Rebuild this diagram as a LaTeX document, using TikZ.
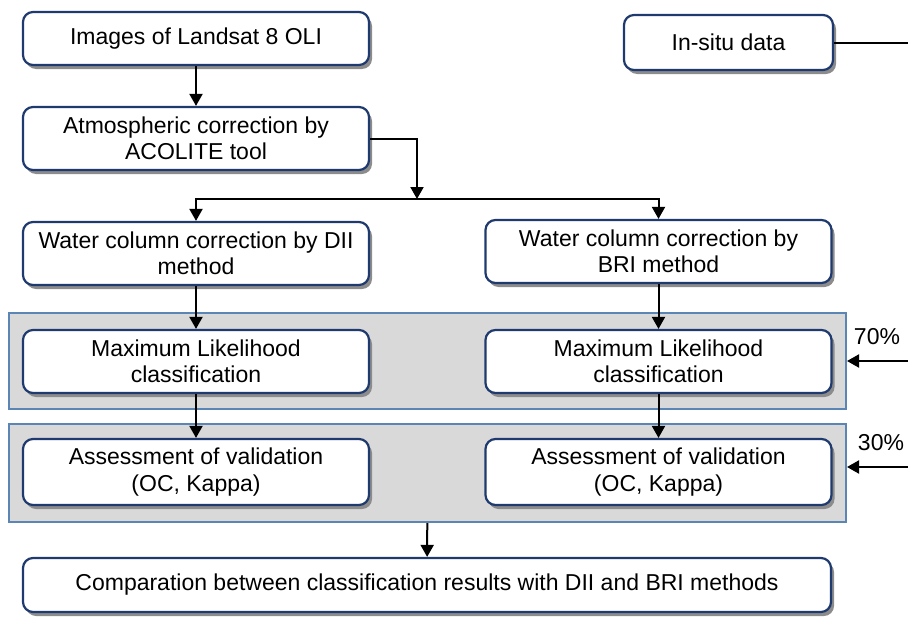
\documentclass[tikz,border=0pt]{standalone}
\usepackage{fontspec}
\setmainfont{Liberation Sans}
\usetikzlibrary{shadows,arrows.meta}
\definecolor{boxline}{HTML}{1F3A6E}
\definecolor{bandline}{HTML}{5A85B5}
\definecolor{bandfill}{HTML}{D9D9D9}
\definecolor{shadowgray}{HTML}{8C8C8C}

\begin{document}
\begin{tikzpicture}[x=1pt,y=-1pt,
    stepbox/.style={draw=boxline,line width=2.2pt,rounded corners=10pt,fill=white,
      align=center,inner sep=0pt,font=\fontsize{23}{26.5}\selectfont,
      drop shadow={shadow xshift=3pt,shadow yshift=-4pt,fill=shadowgray,opacity=1}},
    band/.style={draw=bandline,line width=2pt,fill=bandfill,inner sep=0pt},
    arr/.style={line width=2pt,-{Triangle[width=13pt,length=12pt]}},
    plain/.style={line width=2pt}]
    \pgfmathsetmacro{\leftx}{196}
    \pgfmathsetmacro{\rightx}{658.5}
    \pgfmathsetmacro{\colwidth}{346}
    \useasboundingbox (0,0) rectangle (908,621);
    % grey bands
    \node[band,minimum width=837pt,minimum height=96pt] (band1) at (427.5,361) {};
    \node[band,minimum width=837pt,minimum height=98pt] (band2) at (427.5,473) {};
    % boxes
    \node[stepbox,minimum width=\colwidth pt,minimum height=53pt] (img) at (\leftx,38.5) {Images of Landsat 8 OLI};
    \node[stepbox,minimum width=209pt,minimum height=55pt] (insitu) at (728.5,42.5) {In-situ data};
    \node[stepbox,minimum width=\colwidth pt,minimum height=63pt] (atm) at (\leftx,138.5) {Atmospheric correction by\\ACOLITE tool};
    \node[stepbox,minimum width=\colwidth pt,minimum height=63pt] (dii) at (\leftx,253.5) {Water column correction by DII\\method};
    \node[stepbox,minimum width=\colwidth pt,minimum height=63pt] (bri) at (\rightx,251.5) {Water column correction by\\BRI method};
    \node[stepbox,minimum width=\colwidth pt,minimum height=63pt] (ml1) at (\leftx,361.5) {Maximum Likelihood\\classification};
    \node[stepbox,minimum width=\colwidth pt,minimum height=63pt] (ml2) at (\rightx,361.5) {Maximum Likelihood\\classification};
    \node[stepbox,minimum width=\colwidth pt,minimum height=66pt] (as1) at (\leftx,472) {Assessment of validation\\(OC, Kappa)};
    \node[stepbox,minimum width=\colwidth pt,minimum height=66pt] (as2) at (\rightx,472) {Assessment of validation\\(OC, Kappa)};
    \node[stepbox,minimum width=808pt,minimum height=54pt] (final) at (427,585) {Comparation between classification results with DII and BRI methods};
    % labels
    \node[font=\fontsize{23}{26}\selectfont] (p70) at (877,337) {70\%};
    \node[font=\fontsize{23}{26}\selectfont] (p30) at (881,443) {30\%};
    \coordinate (split) at (417,199);
    \coordinate (insituend) at (908,42.5);
    \coordinate (in70) at (908,361);
    \coordinate (in30) at (908,467);
    % connectors
    \draw[arr] (img) -- (atm);
    \draw[arr] (atm.east) -| (split);
    \draw[arr] (split) -| (dii.north);
    \draw[arr] (split) -| (bri.north);
    \draw[arr] (dii) -- (ml1);
    \draw[arr] (bri) -- (ml2);
    \draw[arr] (ml1) -- (as1);
    \draw[arr] (ml2) -- (as2);
    \draw[arr] (band2) -- (final);
    \draw[plain] (insitu.east) -- (insituend);
    \draw[arr] (in70) -- (band1.east |- in70);
    \draw[arr] (in30) -- (band2.east |- in30);
\end{tikzpicture}
\end{document}
